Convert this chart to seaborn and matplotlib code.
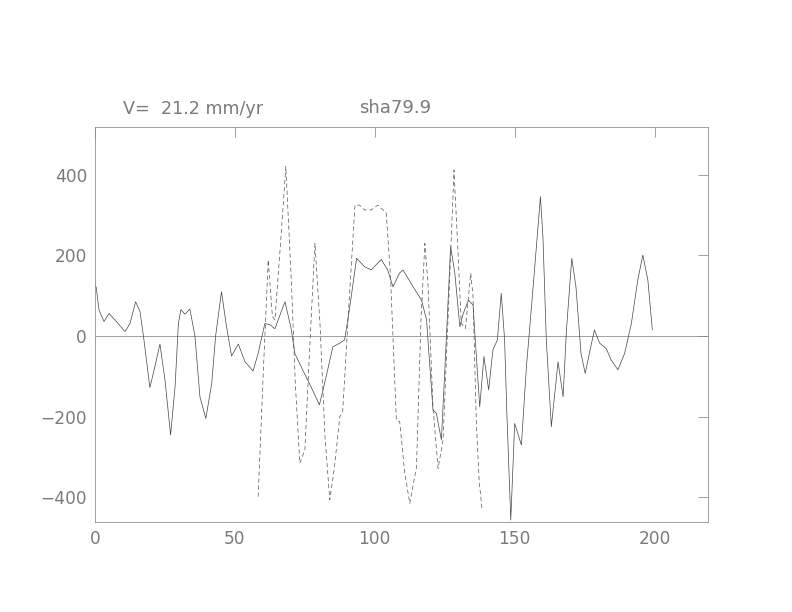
import matplotlib
matplotlib.use("Agg")
import matplotlib.pyplot as plt
import seaborn as sns

# === data ===
solid_x = [0.0, 0.4, 1.4, 3.2, 5.0, 7.1, 10.7, 12.5, 14.5, 16.1, 17.3, 19.6, 21.4, 23.2,
           25.0, 27.0, 28.6, 29.8, 30.7, 32.1, 33.9, 35.7, 37.5, 39.6, 41.7, 43.1, 45.2,
           47.0, 48.8, 51.2, 53.6, 56.5, 58.3, 60.7, 62.5, 64.3, 66.0, 67.9, 70.2, 71.4,
           74.2, 77.2, 80.2, 82.6, 85.0, 87.4, 89.2, 90.9, 93.5, 96.3, 98.7, 102.3, 104.6,
           106.5, 108.8, 110.1, 113.7, 116.7, 118.5, 119.6, 120.8, 122.0, 123.8, 125.6,
           127.1, 128.6, 130.4, 131.6, 133.5, 135.1, 136.3, 137.5, 139.0, 140.7, 142.2,
           143.8, 145.2, 146.4, 147.2, 148.6, 150.0, 152.4, 154.2, 156.5, 159.2, 160.1,
           161.3, 163.1, 165.5, 167.3, 168.5, 170.4, 171.9, 173.7, 175.2, 176.7, 178.5,
           180.4, 182.7, 184.5, 186.9, 189.3, 191.7, 194.0, 195.8, 197.6, 199.2]
solid_y = [125, 122, 65, 36, 56, 40, 11, 31, 85, 60, 0, -128, -76, -20,
           -109, -246, -126, 31, 66, 54, 67, 0, -151, -205, -118, 0, 110,
           23, -50, -20, -64, -87, -43, 31, 28, 18, 50, 85, 15, -43,
           -84, -126, -171, -101, -27, -18, -10, 65, 193, 172, 164, 190, 164,
           122, 156, 164, 122, 89, 40, -68, -184, -192, -258, -2,
           222, 156, 23, 56, 89, 77, -51, -176, -51, -134, -35,
           -10, 106, -10, -192, -457, -217, -271, -76, 114, 346, 246,
           -10, -225, -64, -151, 15, 193, 122, -43, -93, -43, 15,
           -18, -31, -60, -84, -43, 31, 139, 201, 139, 15]

dash_x = [58.3, 60.2, 61.9, 63.4, 64.3, 66.3, 68.2, 70.2, 71.6, 73.2, 75.0, 76.8, 78.6,
          80.4, 82.2, 83.9, 85.5, 87.5, 88.5, 90.6, 92.9, 94.5, 96.3, 98.7, 101.1, 104.1,
          105.6, 107.7, 108.9, 110.7, 112.5, 114.9, 116.5, 117.9, 119.0, 120.8, 122.6,
          124.4, 126.4, 128.3, 129.7, 130.9, 132.4, 134.3, 135.1, 136.3, 137.3, 138.3]
dash_y = [-399, -80, 189, 48, 40, 230, 421, 131, -120, -316, -283, -20, 230,
          31, -250, -407, -330, -200, -190, 60, 325, 325, 313, 313, 325, 305,
          150, -209, -213, -340, -416, -325, 40, 230, 131, -176, -329,
          -258, 80, 412, 214, 31, 19, 156, 98, -217, -360, -428]

title_left = "V=  21.2 mm/yr"
title_mid = "sha79.9"
x_ticks = [0, 50, 100, 150, 200]
y_ticks = [-400, -200, 0, 200, 400]

# === plot ===
sns.set_style("white")
plt.rcParams['font.family'] = ['DejaVu Sans']

fig = plt.figure(figsize=(11, 8.5), dpi=72)
ax = fig.add_axes([0.12, 0.147, 0.7736, 0.6455])

grey = '#8a8a8a'
txt = '#7a7a7a'
ax.axhline(0, color=grey, lw=0.8, zorder=1)
sns.lineplot(x=solid_x, y=solid_y, ax=ax, color='#454545', lw=0.7, sort=False)
sns.lineplot(x=dash_x, y=dash_y, ax=ax, color='#555555', lw=0.7, sort=False,
             linestyle=(0, (6, 4)))

ax.set_xlim(0, 219)
ax.set_ylim(-462, 519)
ax.set_xticks(x_ticks)
ax.set_yticks(y_ticks)
ax.set_yticklabels([f"\u2212{abs(v)}" if v < 0 else str(v) for v in y_ticks])
ax.tick_params(direction='in', length=10, width=0.8, color=grey, labelcolor=txt,
               labelsize=17, top=True, right=True, pad=8)
for s in ax.spines.values():
    s.set_color(grey)
    s.set_linewidth(0.8)

fig.text(123 / 792, 1 - 109 / 612, title_left, fontsize=17.5, color=txt, va='center')
fig.text(359 / 792, 1 - 108 / 612, title_mid, fontsize=18, color=txt, va='center')

fig.savefig("out.png", dpi=72, facecolor='white')
